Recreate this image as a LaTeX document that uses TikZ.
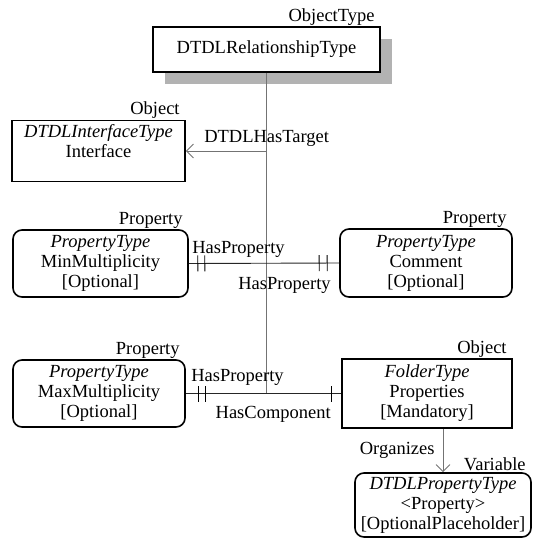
\documentclass[tikz,border=0pt]{standalone}
\usepackage{fontspec}
\setmainfont{Liberation Serif}
\usetikzlibrary{arrows.meta,decorations.markings,shadows}

\tikzset{
  box/.style={draw, line width=1.6pt, fill=white, align=center, inner sep=1pt},
  rbox/.style={box, rounded corners=9pt},
  stereo/.style={anchor=south east, inner sep=1pt, xshift=-5pt},
  link/.style={line width=0.9pt, black!85},
  trunk/.style={line width=0.9pt, black!55},
  tick/.style={postaction={decorate,decoration={markings,
      mark=at position #1 with {\draw[black,line width=0.9pt] (0pt,-8pt) -- (0pt,8pt);}}}},
  lbl/.style={inner sep=2pt, text=black}
}

\begin{document}
\begin{tikzpicture}[x=1pt,y=-1pt,font=\fontsize{18.5}{20}\selectfont]
  \useasboundingbox (0,0) rectangle (536,550);
  % types
  \node[box, minimum width=227pt, minimum height=45pt,
        drop shadow={shadow xshift=12pt,shadow yshift=-12pt,fill=black!30,opacity=1},
        label={[stereo]north east:ObjectType}] (reltype) at (266.5,49.5) {DTDLRelationshipType};
  \node[box, minimum width=173pt, minimum height=61pt,
        label={[stereo]north east:Object}] (iface) at (98.5,151) {\textit{DTDLInterfaceType}\\Interface\\~};
  \node[rbox, minimum width=175pt, minimum height=67pt,
        label={[stereo]north east:Property}] (minmult) at (100.5,263.5) {\textit{PropertyType}\\MinMultiplicity\\{[Optional]}};
  \node[rbox, minimum width=172pt, minimum height=68pt,
        label={[stereo]north east:Property}] (comment) at (426,263) {\textit{PropertyType}\\Comment\\{[Optional]}};
  \node[rbox, minimum width=172pt, minimum height=67pt,
        label={[stereo]north east:Property}] (maxmult) at (99,393.5) {\textit{PropertyType}\\MaxMultiplicity\\{[Optional]}};
  \node[box, minimum width=170pt, minimum height=69pt,
        label={[stereo]north east:Object}] (props) at (427,393.5) {\textit{FolderType}\\Properties\\{[Mandatory]}};
  \node[rbox, minimum width=176pt, minimum height=64pt,
        label={[stereo]north east:Variable}] (var) at (443,505) {\textit{DTDLPropertyType}\\<Property>\\{[OptionalPlaceholder]}};

  % references
  \draw[trunk] (reltype.south) -- (reltype.south |- maxmult.east);
  \draw[trunk,-{Straight Barb[length=7pt,width=14pt]}] (reltype.south |- iface.east) -- (iface.east)
    node[lbl, pos=1, anchor=south west, xshift=16pt, yshift=2pt] (target) {DTDLHasTarget};
  \draw[link, tick=9pt, tick=16pt, tick=-12pt, tick=-20pt] (minmult.east) -- (comment.west)
    node[lbl, pos=0, anchor=south west, xshift=1pt, yshift=4pt] (hasprop1) {HasProperty}
    node[lbl, pos=1, anchor=north east, xshift=-6pt, yshift=-12pt] (hasprop2) {HasProperty};
  \draw[link, tick=13pt, tick=20pt, tick=-10pt] (maxmult.east) -- (props.west)
    node[lbl, pos=0, anchor=south west, xshift=3pt, yshift=6pt] (hasprop3) {HasProperty}
    node[lbl, pos=1, anchor=north east, xshift=-8pt, yshift=-10pt] (hascomp) {HasComponent};
  \draw[trunk,-{Straight Barb[length=7pt,width=14pt]}] (props.south -| var.north) -- (var.north)
    node[lbl, midway, anchor=east, xshift=-6pt] (organizes) {Organizes};
\end{tikzpicture}
\end{document}
